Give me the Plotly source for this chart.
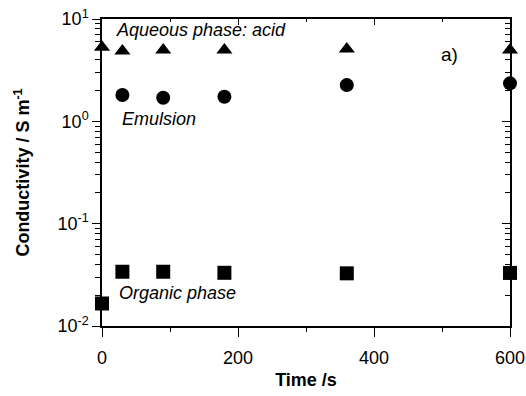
import plotly.graph_objects as go
import math

time_s = [0, 30, 90, 180, 360, 600]
aqueous = [5.3, 4.87, 4.97, 4.97, 5.09, 4.97]
emul_t = [30, 90, 180, 360, 600]
emulsion = [1.81, 1.70, 1.74, 2.26, 2.35]
organic = [0.0166, 0.0339, 0.0339, 0.0331, 0.0327, 0.033]

ytick_vals = [0.01, 0.1, 1, 10]
ytick_text = ["10<sup>-2</sup>", "10<sup>-1</sup>", "10<sup>0</sup>", "10<sup>1</sup>"]
xtick_vals = [0, 200, 400, 600]
minor_y = [m * 10 ** e for e in (-2, -1, 0) for m in range(2, 10)]

FONT = "Liberation Sans, Arial, sans-serif"

fig = go.Figure()
common = dict(mode="markers", cliponaxis=False, showlegend=False)
fig.add_trace(go.Scatter(x=time_s, y=aqueous, marker=dict(symbol="triangle-up", size=14, color="black"), **common))
fig.add_trace(go.Scatter(x=emul_t, y=emulsion, marker=dict(symbol="circle", size=14, color="black"), **common))
fig.add_trace(go.Scatter(x=time_s, y=organic, marker=dict(symbol="square", size=14, color="black"), **common))
fig.add_trace(go.Scatter(x=[None], y=[None], xaxis="x2", yaxis="y2", showlegend=False))

axline = dict(showline=True, linecolor="black", linewidth=1.5, showgrid=False, zeroline=False,
              tickcolor="black", tickwidth=1.2, automargin=False)

fig.update_layout(
    width=526, height=396,
    margin=dict(l=102, r=16, t=19, b=70),
    plot_bgcolor="white", paper_bgcolor="white",
    font=dict(family=FONT, size=18, color="black"),
    xaxis=dict(range=[0, 600], tickvals=xtick_vals, ticks="outside", ticklen=9, ticklabelstandoff=6,
               minor=dict(tickvals=[100, 300, 500], ticks="outside", ticklen=4, tickcolor="black"),
               title=dict(text="<b>Time /s</b>", font=dict(size=18), standoff=6), **axline),
    xaxis2=dict(range=[0, 600], overlaying="x", side="top", anchor="y", tickvals=xtick_vals,
                ticks="inside", ticklen=6, showticklabels=False,
                minor=dict(tickvals=[100, 300, 500], ticks="inside", ticklen=3, tickcolor="black"), **axline),
    yaxis=dict(type="log", range=[-2, 1], tickvals=ytick_vals, ticktext=ytick_text, ticks="outside", ticklen=8,
               minor=dict(tickvals=minor_y, ticks="outside", ticklen=5, tickcolor="black"),
               title=dict(text="<b>Conductivity / S m<sup>-1</sup></b>", font=dict(size=18), standoff=23), **axline),
    yaxis2=dict(type="log", range=[-2, 1], overlaying="y", side="right", anchor="x", tickvals=ytick_vals,
                ticks="inside", ticklen=8, showticklabels=False,
                minor=dict(tickvals=minor_y, ticks="inside", ticklen=5, tickcolor="black"), **axline),
)

ann = dict(xref="x", yref="y", showarrow=False, xanchor="left", yanchor="middle", font=dict(size=18))
fig.add_annotation(x=18, y=0.892, text="<i>Aqueous phase: acid</i>", **ann)
fig.add_annotation(x=26, y=0.0225, text="<i>Emulsion</i>", **ann)
fig.add_annotation(x=22, y=-1.678, text="<i>Organic phase</i>", **ann)
fig.add_annotation(x=496, y=0.658, text="a)", **dict(ann, font=dict(size=19)))

fig.write_html("out.html")
